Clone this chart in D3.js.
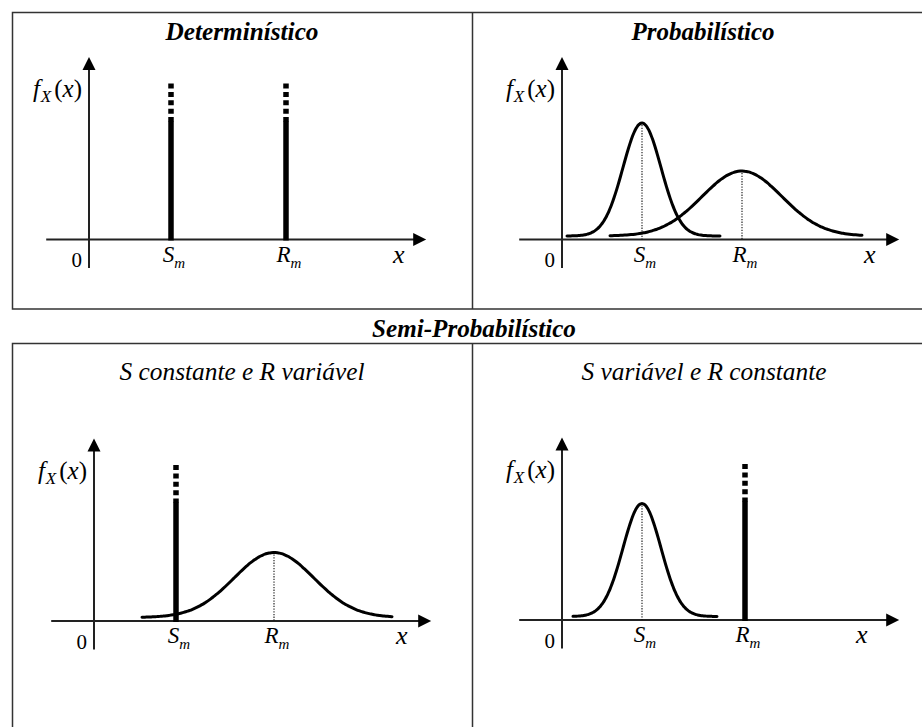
<!DOCTYPE html>
<html><head><meta charset="utf-8">
<script src="https://cdn.jsdelivr.net/npm/d3@7/dist/d3.min.js"></script>
<style>
body{margin:0;background:#fff}
svg{display:block}
</style>
</head><body>
<svg id="chart" width="922" height="727"></svg>
<script>
// ---------------- data ----------------
const panelTitles = ["Determinístico", "Probabilístico", "S constante e R variável", "S variável e R constante"];
const titleBold = [true, true, false, false];
const groupTitle = "Semi-Probabilístico";
const axisLabelY = ["f", "X", "x"];           // f_X(x)
const axisLabelX = "x";
const originLabel = "0";
const meanNames = ["S", "R"];                // S_m , R_m
const meanSub = "m";
// mean positions (x units) for each panel
const meanS = [2.05, 2.0, 2.05, 2.0];
const meanR = [4.925, 4.5, 4.5, 4.575];
// how S and R are represented in each panel
const kindS = ["spike", "curve", "spike", "curve"];
const kindR = ["spike", "curve", "curve", "spike"];
// normal density parameters
const sigmaS = 0.475, sigmaR = 1.0;
const peakS = 1.13, peakR = 0.65;
const tailLevel = 0.035;
// extent of the drawn curves (x units)
const curveS = [null, [0.125, 3.95], null, [0.275, 3.875]];
const curveR = [null, [1.2, 7.5], [1.2, 7.45], null];
// spike (constant value) heights
const spikeTop = 1.56, spikeSolidTop = 1.18;
// axis extents
const xAxisExtent = [-1.07, 8.43];
const yAxisExtent = [-0.285, 1.825];
const xLabelAt = [7.6, 7.55, 7.55, 7.35];

// ---------------- layout ----------------
const W = 922, H = 727;
const FONT = "'Liberation Serif', 'Times New Roman', Tinos, 'DejaVu Serif', 'Noto Serif', serif";
const panels = [
  {ox: 89,  oy: 239.5, tx: 242, ty: 40,  tw: 153},
  {ox: 562, oy: 239.5, tx: 703, ty: 40,  tw: 143},
  {ox: 94,  oy: 621,   tx: 242, ty: 380, tw: 245},
  {ox: 562, oy: 620,   tx: 704, ty: 380, tw: 245}
];

const svg = d3.select("#chart").attr("font-family", FONT);
svg.append("rect").attr("width", W).attr("height", H).attr("fill", "#fff");

// fit a text element to a target width by adjusting font size
function fitWidth(sel, target) {
  const n = sel.node();
  const w = n.getComputedTextLength();
  if (w > 0) {
    const fs = parseFloat(sel.attr("font-size"));
    sel.attr("font-size", (fs * target / w).toFixed(2));
  }
}

// frames
const frame = svg.append("g").attr("stroke", "#333").attr("stroke-width", 1.5).attr("fill", "none");
frame.append("path").attr("d", `M${W+2},12.5 H12.5 V309 H${W+2}`);
frame.append("line").attr("x1", 472.5).attr("x2", 472.5).attr("y1", 12.5).attr("y2", 309);
frame.append("path").attr("d", `M${W+2},343.5 H12.5 V${H+2}`);
frame.append("line").attr("x1", 472.5).attr("x2", 472.5).attr("y1", 343.5).attr("y2", H+2);

const gt = svg.append("text").attr("x", 474).attr("y", 337).attr("text-anchor", "middle")
  .attr("font-size", 25).attr("font-weight", "bold").attr("font-style", "italic").text(groupTitle);
fitWidth(gt, 204);

const gauss = (x, m, s, p) => tailLevel + p * Math.exp(-0.5 * ((x - m) / s) ** 2);

panels.forEach((P, i) => {
  const x = d3.scaleLinear().domain([0, 1]).range([P.ox, P.ox + 40]);
  const y = d3.scaleLinear().domain([0, 1]).range([P.oy, P.oy - 100]);
  const g = svg.append("g");

  // title
  const tt = g.append("text").attr("x", P.tx).attr("y", P.ty).attr("text-anchor", "middle")
    .attr("font-size", 25).attr("font-style", "italic")
    .attr("font-weight", titleBold[i] ? "bold" : "normal").text(panelTitles[i]);
  fitWidth(tt, P.tw);

  // axes
  g.append("line").attr("x1", x(xAxisExtent[0])).attr("x2", x(xAxisExtent[1]) - 10)
    .attr("y1", y(0)).attr("y2", y(0)).attr("stroke", "#222").attr("stroke-width", 2);
  g.append("line").attr("x1", x(0)).attr("x2", x(0))
    .attr("y1", y(yAxisExtent[0])).attr("y2", y(yAxisExtent[1]) + 10).attr("stroke", "#222").attr("stroke-width", 2);
  const xt = x(xAxisExtent[1]), yt = y(yAxisExtent[1]);
  g.append("path").attr("d", `M${xt},${y(0)} L${xt-13},${y(0)-6.5} L${xt-13},${y(0)+6.5} Z`).attr("fill", "#000");
  g.append("path").attr("d", `M${x(0)},${yt} L${x(0)-6.5},${yt+13} L${x(0)+6.5},${yt+13} Z`).attr("fill", "#000");

  // f_X(x) label
  const fl = g.append("text").attr("x", x(0) - 7).attr("y", y(0) - 142.5).attr("text-anchor", "end").attr("font-size", 25);
  fl.append("tspan").attr("font-style", "italic").text(axisLabelY[0]);
  fl.append("tspan").attr("font-style", "italic").attr("font-size", 17).attr("dy", 5).attr("dx", 1).text(axisLabelY[1]);
  fl.append("tspan").attr("dy", -5).attr("dx", 3).text("(");
  fl.append("tspan").attr("font-style", "italic").text(axisLabelY[2]);
  fl.append("tspan").text(")");

  // 0 and x labels
  g.append("text").attr("x", x(0) - 7).attr("y", y(0) + 27.5).attr("text-anchor", "end")
    .attr("font-size", 21).text(originLabel);
  g.append("text").attr("x", x(xLabelAt[i])).attr("y", y(0) + 23).attr("text-anchor", "start")
    .attr("font-size", 26).attr("font-style", "italic").text(axisLabelX);

  // S_m and R_m labels
  [meanS[i], meanR[i]].forEach((m, k) => {
    const t = g.append("text").attr("x", x(m) + 3).attr("y", y(0) + 22).attr("text-anchor", "middle")
      .attr("font-size", 23).attr("font-style", "italic");
    t.append("tspan").text(meanNames[k]);
    t.append("tspan").attr("font-size", 15).attr("dy", 6).text(meanSub);
  });

  // representations
  const items = [
    {kind: kindS[i], m: meanS[i], s: sigmaS, p: peakS, ext: curveS[i]},
    {kind: kindR[i], m: meanR[i], s: sigmaR, p: peakR, ext: curveR[i]}
  ];
  items.forEach(it => {
    if (it.kind === "spike") {
      g.append("line").attr("x1", x(it.m)).attr("x2", x(it.m))
        .attr("y1", y(spikeTop)).attr("y2", y(spikeSolidTop))
        .attr("stroke", "#000").attr("stroke-width", 5.5).attr("stroke-dasharray", "5,3.4");
      g.append("line").attr("x1", x(it.m)).attr("x2", x(it.m))
        .attr("y1", y(spikeSolidTop) - 0.5).attr("y2", y(0) + 1)
        .attr("stroke", "#000").attr("stroke-width", 5.5);
    } else {
      const xs = d3.range(0, 121).map(j => it.ext[0] + (it.ext[1] - it.ext[0]) * j / 120);
      const pts = xs.map(v => [v, gauss(v, it.m, it.s, it.p)]);
      g.append("path").datum(pts)
        .attr("d", d3.line().x(d => x(d[0])).y(d => y(d[1])).curve(d3.curveBasis))
        .attr("fill", "none").attr("stroke", "#000").attr("stroke-width", 3).attr("stroke-linecap", "round");
      g.append("line").attr("x1", x(it.m)).attr("x2", x(it.m))
        .attr("y1", y(tailLevel + it.p) + 2).attr("y2", y(0))
        .attr("stroke", "#111").attr("stroke-width", 1.1).attr("stroke-dasharray", "1.3,1.4");
    }
  });
});
</script>
</body></html>
